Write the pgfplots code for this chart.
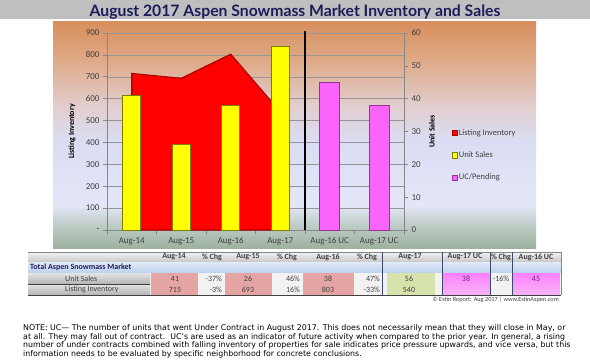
\documentclass[border=0pt]{standalone}
\usepackage{pgfplots}
\pgfplotsset{compat=1.18}
\usepackage{fontspec}
\setmainfont{Carlito}
\newfontfamily\titlefont{Lato}
\newfontfamily\notefont{DejaVu Sans}
\definecolor{titlegray}{RGB}{191,191,191}
\definecolor{titlenavy}{RGB}{28,28,92}
\definecolor{bgA}{RGB}{216,143,94}
\definecolor{bgB}{RGB}{222,170,135}
\definecolor{bgC}{RGB}{226,205,205}
\definecolor{bgD}{RGB}{218,221,243}
\definecolor{bgE}{RGB}{228,231,248}
\definecolor{bgF}{RGB}{190,204,198}
\definecolor{bgG}{RGB}{158,178,158}
\definecolor{axisgray}{RGB}{134,134,134}
\definecolor{gridgray}{RGB}{150,150,150}
\definecolor{labelgray}{RGB}{64,64,64}
\definecolor{areared}{RGB}{255,0,0}
\definecolor{areaedge}{RGB}{175,0,0}
\definecolor{baryellow}{RGB}{255,255,0}
\definecolor{yellowedge}{RGB}{125,125,0}
\definecolor{barpink}{RGB}{250,100,250}
\definecolor{pinkedge}{RGB}{150,50,150}
\definecolor{hdrTop}{RGB}{242,242,242}
\definecolor{hdrBot}{RGB}{200,200,200}
\definecolor{totTop}{RGB}{225,234,248}
\definecolor{totBot}{RGB}{190,208,236}
\definecolor{lblTop}{RGB}{228,228,228}
\definecolor{lblBot}{RGB}{180,180,180}
\definecolor{rowbg}{RGB}{242,242,242}
\definecolor{cellpink}{RGB}{230,165,165}
\definecolor{cellgreen}{RGB}{214,227,172}
\definecolor{cellmagTop}{RGB}{255,128,255}
\definecolor{cellmagBot}{RGB}{246,180,246}
\definecolor{sepnavy}{RGB}{60,75,105}
\definecolor{ucpurple}{RGB}{112,40,120}
\pgfplotsset{mylegend/.style={legend image code/.code={\draw[##1,line width=0.5bp] (0bp,-2.6bp) rectangle (5.2bp,2.6bp);}}}
\begin{document}
\begin{tikzpicture}[x=1bp,y=1bp]
% page
\path[fill=white] (0,0) rectangle (590,359);
% title band
\fill[titlegray] (0,339.5) rectangle (590,359);
\node[anchor=base, inner sep=0, font=\titlefont\bfseries\fontsize{15.8}{15.8}\selectfont, text=titlenavy] at (295,343) {August 2017 Aspen Snowmass Market Inventory and Sales};
% chart background box
\shade[top color=bgA, bottom color=bgB] (53,298.7) rectangle (536,337);
\shade[top color=bgB, bottom color=bgC] (53,253.7) rectangle (536,299);
\shade[top color=bgC, bottom color=bgD] (53,218.7) rectangle (536,254);
\shade[top color=bgD, bottom color=bgE] (53,153.7) rectangle (536,219);
\shade[top color=bgE, bottom color=bgF] (53,133.7) rectangle (536,154);
\shade[top color=bgF, bottom color=bgG] (53,111) rectangle (536,134);
% left axis: listing inventory
\begin{axis}[
  at={(107bp,129bp)}, anchor=south west, scale only axis,
  width=297bp, height=197bp,
  xmin=-0.5, xmax=5.5, ymin=0, ymax=900,
  axis y line*=left, axis x line*=bottom,
  ytick={0,100,...,900},
  yticklabels={-,100,200,300,400,500,600,700,800,900},
  xtick={0,1,2,3,4,5},
  xticklabels={Aug-14,Aug-15,Aug-16,Aug-17,Aug-16 UC,Aug-17 UC},
  minor xtick={-0.5,0.5,1.5,2.5,3.5,4.5,5.5},
  major x tick style={draw=none},
  tick align=outside, major tick length=4bp, minor tick length=4bp,
  ymajorgrids, grid style={gridgray, line width=0.5bp},
  axis line style={axisgray, line width=0.6bp},
  tick style={axisgray, line width=0.6bp},
  ticklabel style={font=\fontsize{9}{9}\selectfont, text=labelgray},
  /pgf/number format/assume math mode=true,
  ylabel={Listing Inventory},
  every axis y label/.style={at={(axis description cs:-0.118,0.5)}, rotate=90, anchor=center, font=\bfseries\fontsize{8}{8}\selectfont, text=black},
]
\addplot[fill=areared, draw=areaedge, line width=1.2bp] coordinates {(0,715) (1,693) (2,803) (3,540)} \closedcycle;
\end{axis}
% right axis: unit sales
\begin{axis}[
  at={(107bp,129bp)}, anchor=south west, scale only axis,
  width=297bp, height=197bp,
  xmin=-0.5, xmax=5.5, ymin=0, ymax=60,
  axis y line*=right, axis x line=none,
  ytick={0,10,...,60},
  tick align=outside, major tick length=4bp,
  axis line style={axisgray, line width=0.6bp},
  tick style={axisgray, line width=0.6bp},
  ticklabel style={font=\fontsize{9}{9}\selectfont, text=labelgray},
  /pgf/number format/assume math mode=true,
  ylabel={Unit Sales},
  every axis y label/.style={at={(axis description cs:1.094,0.5)}, rotate=90, anchor=center, font=\bfseries\fontsize{8}{8}\selectfont, text=black},
  legend style={at={(axis description cs:1.16,0.52)}, anchor=north west, draw=none, fill=none, font=\fontsize{8.5}{8.5}\selectfont, text=labelgray, row sep=12bp, inner sep=0pt, nodes={inner sep=1.5bp}},
  legend cell align=left,
  clip=false,
]
\addlegendimage{mylegend, fill=areared, draw=areaedge}
\addlegendentry{Listing Inventory}
\addplot[ybar, bar width=18bp, bar shift=0pt, fill=baryellow, draw=yellowedge, line width=0.8bp, mylegend] coordinates {(0,41) (1,26) (2,38) (3,56)};
\addlegendentry{Unit Sales}
\addplot[ybar, bar width=20bp, bar shift=0pt, fill=barpink, draw=pinkedge, line width=0.8bp, mylegend] coordinates {(4,45) (5,38)};
\addlegendentry{ UC/Pending}
\draw[black, line width=1.2bp] (axis cs:3.5,0) -- (axis cs:3.5,60.5);
\end{axis}
% ---------- table ----------
\shade[top color=hdrTop, bottom color=hdrBot] (28,97) rectangle (561,107);
\shade[top color=totTop, bottom color=totBot] (28,86) rectangle (561,97);
\fill[rowbg] (150,64) rectangle (561,86);
\shade[top color=lblTop, bottom color=lblBot] (28,75) rectangle (150,86);
\shade[top color=lblTop, bottom color=lblBot] (28,64) rectangle (150,75);
\draw[labelgray, line width=0.6bp] (28,75) -- (150,75);
\foreach \a/\b in {150.5/197.5, 224.5/271.5, 302.5/353.5}{
  \fill[cellpink] (\a,75.5) rectangle (\b,85.6);
  \fill[cellpink] (\a,64.5) rectangle (\b,74.6);
}
\fill[cellgreen] (387,75.5) rectangle (435,85.6);
\fill[cellgreen] (387,64.5) rectangle (435,74.6);
\shade[top color=cellmagTop, bottom color=cellmagBot] (442.5,64.3) rectangle (489.5,85.6);
\shade[top color=cellmagTop, bottom color=cellmagBot] (512.5,64.3) rectangle (559.5,85.6);
\draw[axisgray, line width=0.5bp] (28,107) -- (561,107);
\draw[labelgray, line width=0.7bp] (28,64) -- (561,64);
\foreach \x in {382,442,490,512}{\draw[sepnavy, line width=0.7bp] (\x,64) -- (\x,107);}
\draw[axisgray, line width=0.5bp] (561,64) -- (561,107);
% header texts
\begin{scope}[every node/.style={font=\bfseries\fontsize{8}{8}\selectfont, text=labelgray, inner sep=0}]
\node at (174,102) {Aug-14};
\node at (212,102) {\% Chg};
\node at (248,102) {Aug-15};
\node at (287,102) {\% Chg};
\node at (328,102) {Aug-16};
\node at (367,102) {\% Chg};
\node at (410,102) {Aug-17};
\node at (465,102) {Aug-17 UC};
\node at (501,102) {\% Chg};
\node at (536,102) {Aug-16 UC};
\node[anchor=west, text=titlenavy] at (30,91.5) {Total Aspen Snowmass Market};
\end{scope}
\begin{scope}[every node/.style={font=\fontsize{8}{8}\selectfont, text=labelgray, inner sep=0}]
\node[anchor=west] at (65,80.5) {Unit Sales};
\node[anchor=west] at (65,69.5) {Listing Inventory};
\node at (175,80.5) {41};
\node[anchor=east] at (222,80.5) {-37\%};
\node at (248,80.5) {26};
\node[anchor=east] at (300,80.5) {46\%};
\node at (328,80.5) {38};
\node[anchor=east] at (380,80.5) {47\%};
\node at (409,80.5) {56};
\node[text=ucpurple] at (466,80.5) {38};
\node at (501,80.5) {-16\%};
\node[text=ucpurple] at (536,80.5) {45};
\node at (175,69.5) {715};
\node[anchor=east] at (222,69.5) {-3\%};
\node at (248,69.5) {693};
\node[anchor=east] at (300,69.5) {16\%};
\node at (328,69.5) {803};
\node[anchor=east] at (380,69.5) {-33\%};
\node at (409,69.5) {540};
\end{scope}
\node[anchor=east, inner sep=0, font=\fontsize{6.3}{6.3}\selectfont, text=labelgray] at (559,59) {\textcopyright{} Estin Report: Aug 2017 | www.EstinAspen.com};
% note
\begin{scope}[every node/.style={anchor=base west, inner sep=0, font=\notefont\fontsize{7.9}{7.9}\selectfont, text=black}]
\node at (23,28.5) {NOTE: UC— The number of units that went Under Contract in August 2017. This does not necessarily mean that they will close in May, or};
\node at (23,20) {at all. They may fall out of contract.\ \ UC’s are used as an indicator of future activity when compared to the prior year. In general, a rising};
\node at (23,11.5) {number of under contracts combined with falling inventory of properties for sale indicates price pressure upwards, and vice versa, but this};
\node at (23,3) {information needs to be evaluated by specific neighborhood for concrete conclusions.};
\end{scope}
\end{tikzpicture}
\end{document}
